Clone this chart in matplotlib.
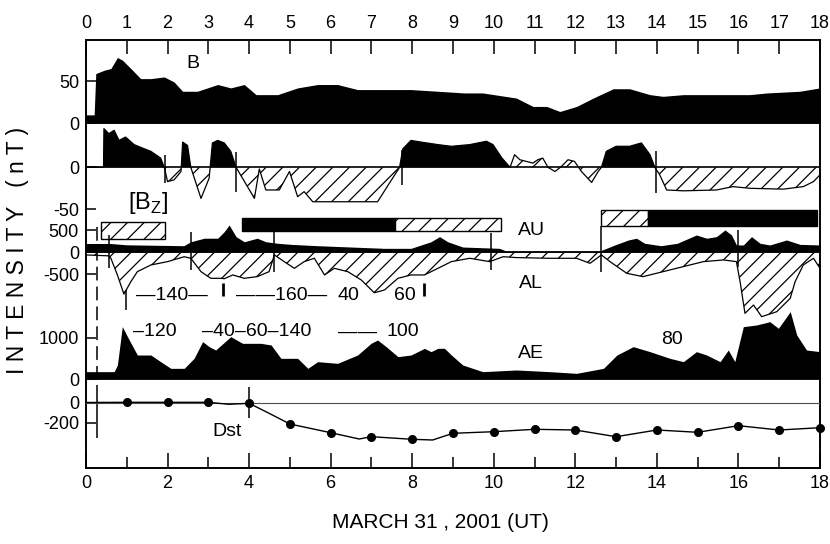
import numpy as np
import matplotlib.pyplot as plt
from matplotlib.patches import Rectangle

plt.rcParams['font.family'] = ['Liberation Sans', 'DejaVu Sans']
plt.rcParams['axes.unicode_minus'] = False
plt.rcParams['hatch.linewidth'] = 0.9

# values, time in hours UT
b_t = [0, 0.2, 0.24, 0.45, 0.61, 0.77, 0.89, 1.1, 1.34, 1.59, 1.92, 2.16, 2.37, 2.73, 3.23,
       3.55, 3.88, 4.17, 4.7, 5.19, 5.68, 6.17, 6.66, 7.32, 7.97, 8.63, 9.28, 9.73, 10.55,
       10.96, 11.3, 11.62, 12.03, 12.44, 12.93, 13.33, 13.83, 14.15, 14.65, 15.47, 16.28,
       16.7, 17.5, 18.0]
b_val = [10, 10, 59, 63, 65, 78, 75, 65, 53, 53, 55, 49, 38, 38, 46, 42, 46, 34, 34, 42,
         46, 46, 40, 40, 40, 38, 36, 36, 30, 20, 20, 14, 20, 30, 41, 41, 34, 32, 34, 34,
         34, 36, 38, 42]

bz_t = [0, 0.43, 0.44, 0.56, 0.69, 0.81, 0.97, 1.18, 1.38, 1.59, 1.71, 1.83, 1.92, 2.0,
        2.16, 2.33, 2.37, 2.49, 2.57, 2.82, 3.02, 3.1, 3.23, 3.39, 3.55, 3.68, 4.13, 4.25,
        4.41, 4.74, 4.99, 5.19, 5.35, 5.56, 7.15, 7.69, 7.77, 7.97, 8.22, 8.63, 8.96, 9.41,
        9.82, 9.98, 10.2, 10.4, 10.51, 10.64, 10.8, 10.96, 11.08, 11.2, 11.33, 11.5, 11.66,
        11.82, 11.98, 12.15, 12.4, 12.56, 12.64, 12.76, 13.0, 13.33, 13.62, 13.83, 13.95,
        14.07, 14.24, 14.65, 15.46, 15.87, 16.28, 17.1, 17.59, 17.84, 18.0]
bz_val = [0, 0, 46, 40, 44, 32, 36, 27, 23, 19, 15, 11, 0, -17, -15, -5, 30, 26, 0, -37,
          -13, 29, 32, 29, 19, 0, -37, -2, -27, -27, -5, -35, -29, -41, -41, 0, 22, 32, 30,
          27, 25, 27, 31, 27, 11, 0, 15, 9, 7, 5, 9, 11, 0, -5, 1, 9, 7, -5, -18, -5, 0, 19,
          25, 25, 29, 15, 0, -9, -27, -28, -27, -23, -25, -26, -23, -17, -9]

au_t = [0, 0.6, 1.0, 2.4, 2.57, 2.9, 3.23, 3.39, 3.51, 3.68, 3.88, 4.04, 4.2, 4.41, 4.7,
        5.03, 5.68, 6.5, 7.32, 7.97, 8.46, 8.67, 8.87, 9.24, 10.14, 10.3, 12.6, 12.97, 13.3,
        13.5, 13.7, 14.1, 14.5, 14.97, 15.22, 15.46, 15.67, 15.83, 15.95, 16.12, 16.32,
        16.53, 16.77, 17.18, 17.51, 18.0]
au_val = [200, 200, 170, 150, 240, 320, 320, 470, 620, 356, 240, 280, 320, 240, 205, 180,
          150, 120, 90, 90, 240, 356, 240, 120, 90, 30, 30, 167, 280, 320, 205, 150, 205,
          394, 320, 356, 508, 394, 167, 167, 356, 205, 167, 280, 180, 167]

al_t = [0, 0.55, 0.61, 0.77, 0.93, 1.1, 1.26, 1.59, 2.0, 2.41, 2.57, 2.82, 3.06, 3.31,
        3.39, 3.6, 3.88, 4.2, 4.49, 4.62, 4.86, 5.11, 5.35, 5.6, 5.85, 6.09, 6.42, 6.75,
        7.07, 7.32, 7.65, 7.97, 8.3, 8.63, 8.96, 9.41, 9.9, 10.23, 10.55, 11.37, 12.03,
        12.36, 12.64, 12.85, 13.26, 13.66, 13.99, 14.48, 15.14, 15.63, 15.95, 16.04, 16.16,
        16.37, 16.57, 16.94, 17.27, 17.39, 17.59, 17.84, 18.0]
al_val = [-60, -80, -136, -515, -950, -667, -440, -288, -212, -100, -136, -440, -591, -591,
          -600, -515, -591, -553, -440, -60, -212, -364, -212, -136, -515, -364, -440, -629,
          -920, -856, -591, -515, -515, -364, -212, -136, -212, -100, -120, -136, -136, -250,
          -60, -212, -477, -553, -477, -364, -212, -174, -212, -667, -1387, -1198, -1463,
          -1350, -1046, -667, -288, -136, -364]

ae_t = [0, 0.69, 0.77, 0.89, 1.06, 1.26, 1.59, 1.83, 2.08, 2.41, 2.65, 2.86, 3.02, 3.18,
        3.55, 3.84, 4.29, 4.54, 4.78, 5.19, 5.44, 5.68, 6.17, 6.66, 6.99, 7.15, 7.36, 7.65,
        7.97, 8.3, 8.46, 8.63, 8.79, 8.96, 9.24, 9.73, 10.55, 11.37, 12.03, 12.69, 13.02,
        13.42, 13.83, 14.32, 14.65, 14.97, 15.22, 15.55, 15.75, 15.91, 16.12, 16.44, 16.77,
        16.98, 17.27, 17.43, 17.67, 18.0]
ae_val = [179, 179, 341, 1276, 951, 585, 585, 423, 260, 260, 504, 911, 789, 707, 1033, 870,
          870, 829, 504, 504, 260, 423, 382, 585, 870, 951, 789, 545, 585, 748, 667, 748,
          748, 585, 341, 179, 220, 179, 138, 260, 585, 789, 667, 504, 423, 667, 585, 423,
          707, 423, 1276, 1317, 1398, 1236, 1642, 1073, 707, 667]

dst_t = [0, 1, 2, 3, 3.5, 4, 4.5, 5, 6, 6.7, 7, 7.5, 8, 8.5, 9, 10, 11, 12, 13, 14, 15, 16,
         17, 18]
dst_val = [0, 2, 2, 2, -18, -8, -110, -215, -302, -365, -342, -355, -368, -375, -308, -292,
           -268, -275, -342, -275, -298, -232, -275, -252]

# interval bars above AU (start, end, filled?)
bar_start = [0.38, 3.83, 7.57, 12.64, 13.78]
bar_end = [1.93, 7.57, 10.17, 13.78, 17.92]
bar_solid = [False, True, False, False, True]

# quiet stretch of Bz drawn hatched on both sides of zero
bz_quiet = (10.3, 12.6)

# ---- layout, in pixels of the 830 x 544 picture ----
W, H = 830, 544
X0, X1 = 86, 820
Y0, Y1 = 40, 468
FS = 13
bar_rows = [(222, 239), (218, 231), (218, 231), (210, 226), (210, 226)]
marks = [(1.94, 155, 183), (3.68, 152, 192), (7.74, 150, 185), (13.98, 151, 193),
         (0.56, 235, 268), (2.57, 232, 270), (4.6, 232, 272), (9.93, 233, 270),
         (12.64, 226, 272), (16.0, 230, 267), (0.98, 290, 310), (4.0, 387, 418)]

fig = plt.figure(figsize=(W / 100, H / 100), dpi=100)


def box(top, bottom):
    return [X0 / W, 1 - bottom / H, (X1 - X0) / W, (bottom - top) / H]


def put(x, y, s, **kw):
    kw.setdefault('fontsize', FS + 1)
    fig.text(x / W, 1 - y / H, s, ha='center', va='center', **kw)


frame = fig.add_axes(box(Y0, Y1))
frame.set_xlim(0, 18)
frame.set_ylim(Y1, Y0)
frame.set_yticks([])
frame.set_xticks(range(0, 19, 2))
frame.set_xticks(range(1, 18, 2), minor=True)
frame.tick_params(axis='x', which='major', direction='in', length=11, width=1.1,
                  labelsize=FS, pad=5)
frame.tick_params(axis='x', which='minor', direction='in', length=8, width=1.1)
for s in frame.spines.values():
    s.set_linewidth(1.2)

top = frame.twiny()
top.set_xlim(0, 18)
top.set_xticks(range(19))
top.tick_params(axis='x', direction='in', length=10, width=1.1, labelsize=FS, pad=6)
for s in top.spines.values():
    s.set_linewidth(1.2)

for s0, s1, solid, (r0, r1) in zip(bar_start, bar_end, bar_solid, bar_rows):
    if solid:
        frame.add_patch(Rectangle((s0, r0), s1 - s0, r1 - r0, facecolor='k', edgecolor='k', lw=1))
    else:
        frame.add_patch(Rectangle((s0, r0), s1 - s0, r1 - r0, facecolor='white',
                                  edgecolor='k', hatch='//', lw=1))

for t, r0, r1 in marks:
    frame.vlines(t, r0, r1, color='k', lw=1.1)
frame.vlines(0.27, 227, 380, color='k', lw=1.1, linestyles=(0, (9, 4)))
frame.vlines(0.27, 385, 438, color='k', lw=1.1)
frame.vlines([3.37, 8.3], 283, 296, color='k', lw=2)


def panel(top_px, bottom_px, zero_px, scale, ticks):
    ax = fig.add_axes(box(top_px, bottom_px))
    ax.set_xlim(0, 18)
    ax.set_ylim((zero_px - bottom_px) / scale, (zero_px - top_px) / scale)
    ax.patch.set_visible(False)
    for s in ax.spines.values():
        s.set_visible(False)
    ax.set_xticks([])
    ax.set_yticks(ticks)
    ax.tick_params(axis='y', direction='in', length=7, width=1.1, labelsize=FS, pad=5)
    return ax


# B
ax = panel(40, 124, 123.3, 0.843, [0, 50])
ax.fill_between(b_t, 0, b_val, color='k', lw=0)
ax.axhline(0, color='k', lw=1.2)

# Bz
ax = panel(124, 215, 167.3, 0.84, [0, -50])
t = np.array(bz_t)
v = np.array(bz_val)
quiet = (t > bz_quiet[0]) & (t < bz_quiet[1])
ax.fill_between(t, 0, v, where=(v >= 0) & ~quiet, interpolate=True, color='k', lw=0)
ax.fill_between(t, 0, v, where=(v <= 0) | quiet, interpolate=True, facecolor='none',
                edgecolor='k', hatch='//', lw=0)
ax.plot(t, v, color='k', lw=0.9)
ax.axhline(0, color='k', lw=1.2)

# AU / AL
ax = panel(195, 320, 252.3, 0.044, [500, 0, -500])
ax.fill_between(au_t, 0, au_val, color='k', lw=0)
ax.fill_between(al_t, 0, al_val, facecolor='none', edgecolor='k', hatch='//', lw=0)
ax.plot(al_t, al_val, color='k', lw=0.9)
ax.axhline(0, color='k', lw=1.2)

# AE
ax = panel(300, 385, 379, 0.041, [1000, 0])
ax.fill_between(ae_t, 0, ae_val, color='k', lw=0)
ax.axhline(0, color='k', lw=1.2)

# Dst
ax = panel(385, 468, 402.5, 0.1, [0, -200])
ax.axhline(0, color='0.3', lw=0.8)
ax.plot(dst_t, dst_val, color='k', lw=1)
hr = [i for i, x in enumerate(dst_t) if x >= 1 and x == int(x)]
ax.plot([dst_t[i] for i in hr], [dst_val[i] for i in hr], 'o', color='k', ms=5.5,
        clip_on=False)

put(193, 63, 'B')
put(148, 203, '[B$_\\mathregular{Z}$]', fontsize=17)
put(531, 231, 'AU')
put(531, 283, 'AL')
put(531, 354, 'AE')
put(672, 339, '80')
put(227, 432, 'Dst')
for s, x in [('\u2014140\u2014', 172), ('\u2014\u2014160\u2014', 282), ('40', 348), ('60', 405)]:
    put(x, 295, s)
for s, x in [('\u2013120', 155), ('\u201340\u201360\u2013140', 257), ('\u2014\u2014', 357),
             ('100', 403)]:
    put(x, 332, s)
put(440, 522, 'MARCH 31 , 2001 (UT)', fontsize=15)
put(18, 250, 'I N T E N S I T Y   ( n T )', rotation=90, fontsize=16.5)

fig.savefig('out.png', dpi=100)
